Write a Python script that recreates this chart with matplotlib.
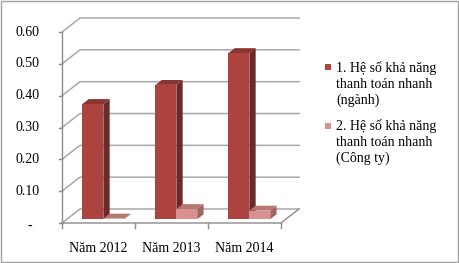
import matplotlib
matplotlib.use('Agg')
import matplotlib.pyplot as plt
from matplotlib.patches import Polygon, Rectangle
import numpy as np

# data
categories = ['Năm 2012', 'Năm 2013', 'Năm 2014']
nganh = [0.362, 0.422, 0.522]        # 1. He so kha nang thanh toan nhanh (nganh)
congty = [0.002, 0.032, 0.027]       # 2. He so kha nang thanh toan nhanh (Cong ty)
series_names = ['1. Hệ số khả năng\nthanh toán nhanh\n(ngành)',
                '2. Hệ số khả năng\nthanh toán nhanh\n(Công ty)']
yticks = [0.0, 0.1, 0.2, 0.3, 0.4, 0.5, 0.6]
yticklabels = ['-', '0.10', '0.20', '0.30', '0.40', '0.50', '0.60']

# colours: front, side, top
colors = [('#AD433F', '#6B2A28', '#8C3431'),
          ('#D8918E', '#A06462', '#B87673')]

FONT = ['Liberation Serif', 'DejaVu Serif']
W, H = 459, 263

# oblique "3d" projection, depth z in [0, 1]
DX = 18 / 73.0      # category units
DY = 14 / 318.3     # value units


def proj(x, v, z):
    return (x + z * DX, v + z * DY)


fig = plt.figure(figsize=(W / 100, H / 100), dpi=100)
ax = fig.add_axes([0, 0, 1, 1])
ax.set_xlim(-0.5 - 62 / 73.0, -0.5 + (W - 62) / 73.0)
ax.set_ylim((223 - H) / 318.3, 223 / 318.3)
ax.axis('off')

grid_c = '#A8A8A8'
axis_c = '#8C8C8C'
n = len(categories)
x_left, x_right = -0.5, n - 0.5

# walls / gridlines
for v in yticks:
    p0 = proj(x_left, v, 0)
    p1 = proj(x_left, v, 1)
    p2 = proj(x_right, v, 1)
    ax.plot([p0[0], p1[0], p2[0]], [p0[1], p1[1], p2[1]], color=grid_c, lw=1.1, zorder=1)
    ax.plot([x_left - 0.035, x_left], [v, v], color=axis_c, lw=1.0, zorder=1)
ax.plot([x_left, x_left], [0, max(yticks)], color=axis_c, lw=1.0, zorder=1)

# floor
f1 = proj(x_right, 0, 1)
ax.plot([x_left, x_right, f1[0]], [0, 0, f1[1]], color=axis_c, lw=1.0, zorder=1)
for b in np.arange(n + 1) - 0.5:
    ax.plot([b, b], [0, -0.016], color=axis_c, lw=1.0, zorder=1)

# bars
w = 20.9 / 73.0
off = (1 - 2 * w) / 2
z0, z1 = 0.27, 0.62
for j, vals in enumerate([nganh, congty]):
    front, side, top = colors[j]
    xs = np.arange(n) - 0.5 + off + j * w + z0 * DX
    ax.bar(xs, vals, width=w, bottom=z0 * DY, align='edge', color=front,
           linewidth=0, zorder=2 + j)
    for i, v in enumerate(vals):
        xa = i - 0.5 + off + j * w
        xb = xa + w
        side_pts = [proj(xb, 0, z0), proj(xb, 0, z1), proj(xb, v, z1), proj(xb, v, z0)]
        top_pts = [proj(xa, v, z0), proj(xb, v, z0), proj(xb, v, z1), proj(xa, v, z1)]
        ax.add_patch(Polygon(side_pts, closed=True, facecolor=side, lw=0, zorder=2 + j))
        ax.add_patch(Polygon(top_pts, closed=True, facecolor=top, lw=0, zorder=2 + j))

# tick labels
for v, lab in zip(yticks, yticklabels):
    if lab == '-':
        ax.text(x_left - 32 / 73.0, v - 0.012, lab, ha='center', va='center',
                fontsize=10, family=FONT)
    else:
        ax.text(x_left - 22 / 73.0, v, lab, ha='right', va='center',
                fontsize=10, family=FONT)
for i, lab in enumerate(categories):
    ax.text(i, -25 / 318.3, lab, ha='center', va='center', fontsize=10, family=FONT)

# legend
leg_y = [84, 142]
sq_y = [67, 126]
for j, name in enumerate(series_names):
    fig.patches.append(Rectangle((325 / W, 1 - (sq_y[j] + 3) / H), 6 / W, 6 / H,
                                 transform=fig.transFigure, facecolor=colors[j][0],
                                 lw=0))
    fig.text(336 / W, 1 - leg_y[j] / H, name, ha='left', va='center', fontsize=10,
             family=FONT, linespacing=1.28)

# border
fig.patches.append(Rectangle((1 / W, 1 / H), 457 / W, 261 / H, transform=fig.transFigure,
                             fill=False, edgecolor='#A0A0A0', lw=1.0))

fig.savefig('out.png', dpi=100)
